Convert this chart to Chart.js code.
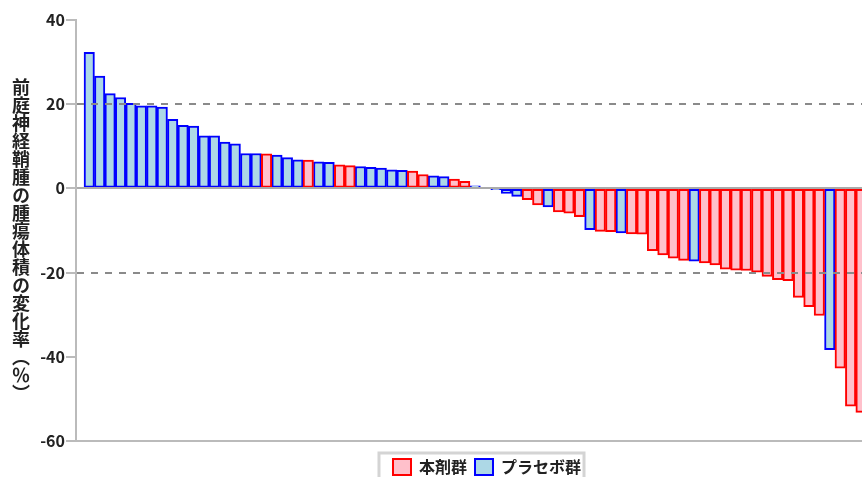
<!DOCTYPE html>
<html lang="ja">
<head>
<meta charset="utf-8">
<script src="https://cdn.jsdelivr.net/npm/chart.js@4"></script>
<style>
  html, body { margin: 0; padding: 0; background: #fff; overflow: hidden; }
  #wrap { position: relative; width: 862px; height: 477px; overflow: hidden; }
  #chart { position: absolute; left: 0; top: 0; }
  #ytitle {
    position: absolute; left: 11px; top: 78px;
    writing-mode: vertical-rl;
    font: bold 18px 'Noto Sans CJK JP', sans-serif;
    line-height: 20px; color: #222;
  }
</style>
</head>
<body>
<div id="wrap">
  <canvas id="chart" width="974" height="490"></canvas>
  <div id="ytitle">前庭神経鞘腫の腫瘍体積の変化率（％）</div>
</div>
<script>
/* ── Data: change in tumour volume per patient (%), sorted, with arm ── */
const changePct = [
  32.3, 26.7, 22.5, 21.6, 20.2, 19.6, 19.6, 19.3, 16.4, 15.0,
  14.8, 12.5, 12.5, 11.0, 10.6, 8.3, 8.3, 8.2, 7.9, 7.3,
  6.8, 6.7, 6.3, 6.2, 5.6, 5.4, 5.2, 5.0, 4.8, 4.4,
  4.3, 4.1, 3.3, 3.0, 2.8, 2.2, 1.7, 0.6, 0.2, -0.3,
  -1.2, -1.9, -2.7, -3.9, -4.4, -5.6, -5.9, -6.7, -9.8, -10.2,
  -10.3, -10.6, -10.8, -10.9, -14.8, -15.8, -16.6, -17.1, -17.3, -17.7,
  -18.2, -19.2, -19.4, -19.5, -19.9, -20.9, -21.7, -21.9, -25.9, -28.1,
  -30.2, -38.3, -42.7, -51.7, -53.2
];
// A = 本剤群, P = プラセボ群
const arm = [
  'P','P','P','P','P','P','P','P','P','P',
  'P','P','P','P','P','P','P','A','P','P',
  'P','A','P','P','A','A','P','P','P','P',
  'P','A','A','P','P','A','A','P','P','P',
  'P','P','A','A','P','A','A','A','P','A',
  'A','P','A','A','A','A','A','A','P','A',
  'A','A','A','A','A','A','A','A','A','A',
  'A','P','A','A','A'
];
const armKeys = ['A', 'P'];
const armLabels = ['本剤群', 'プラセボ群'];
const armFill = ['pink', 'lightblue'];
const armBorder = ['#ff0000', '#0000ff'];
const yTicks = { min: -60, max: 40, step: 20 };
const refLines = [20, -20];

const FONT = "'Noto Sans CJK JP', 'Liberation Sans', sans-serif";

const datasets = armKeys.map((k, s) => ({
  label: armLabels[s],
  data: changePct.map((v, i) => arm[i] === k ? { x: i + 1, y: v } : null).filter(Boolean),
  backgroundColor: armFill[s],
  borderColor: armBorder[s],
  borderWidth: 2,
  borderSkipped: false,
  barPercentage: 1,
  categoryPercentage: 1,
  grouped: false,
}));

/* ── Grey frame around the legend ── */
const legendFrame = {
  id: 'legendFrame',
  afterDraw(chart) {
    const hb = chart.legend.legendHitBoxes;
    if (!hb || !hb.length) return;
    const left = Math.min(...hb.map(h => h.left)) - 14;
    const right = Math.max(...hb.map(h => h.left + h.width)) + 3;
    const top = hb[0].top - 6;
    const ctx = chart.ctx;
    ctx.save();
    ctx.strokeStyle = '#d4d4d4';
    ctx.lineWidth = 3;
    ctx.strokeRect(left, top, right - left, 60);
    ctx.restore();
  }
};

new Chart(document.getElementById('chart'), {
  type: 'bar',
  data: { datasets },
  plugins: [legendFrame],
  options: {
    responsive: false,
    animation: false,
    layout: { padding: { top: 20, left: 0, right: 0, bottom: 5 } },
    plugins: {
      tooltip: { enabled: false },
      legend: {
        position: 'bottom',
        labels: {
          boxWidth: 18, boxHeight: 16, padding: 8, color: '#222',
          font: { size: 16, weight: 'bold', family: FONT }
        }
      }
    },
    scales: {
      x: {
        type: 'linear',
        offset: false,
        bounds: 'data',
        min: -0.27, max: 85.83,
        afterFit: s => { s.height = 10; },
        ticks: { display: false },
        grid: { display: false },
        border: { color: '#bbb', width: 2 }
      },
      y: {
        min: yTicks.min, max: yTicks.max,
        afterFit: s => { s.width = 76; },
        ticks: {
          stepSize: yTicks.step, padding: 1, color: '#222',
          font: { size: 16, weight: 'bold', family: FONT }
        },
        grid: {
          z: 1,
          lineWidth: 2,
          color: c => {
            if (!c.tick) return 'rgba(0,0,0,0)';
            if (c.tick.value === 0) return '#aaa';
            return refLines.includes(c.tick.value) ? '#8a8a8a' : 'rgba(0,0,0,0)';
          },
          tickLength: 10, tickColor: '#bbb', tickWidth: 2
        },
        border: {
          z: 1,
          color: '#bbb', width: 2,
          dash: c => (c.tick && c.tick.value !== 0) ? [7, 7] : []
        }
      }
    }
  }
});
</script>
</body>
</html>
